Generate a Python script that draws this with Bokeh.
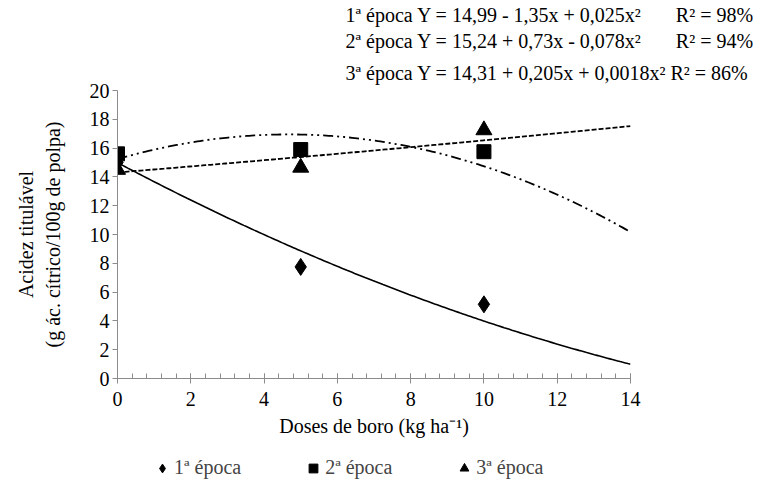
import numpy as np
from bokeh.plotting import figure
from bokeh.layouts import column
from bokeh.models import Legend, LegendItem, Range1d, FixedTicker, Title
from bokeh.embed import file_html
from bokeh.resources import INLINE

# ---- data ----
doses = [0, 5, 10]
epoca1 = [15.0, 7.75, 5.15]
epoca2 = [15.6, 15.9, 15.75]
epoca3 = [14.5, 14.65, 17.25]
# regression coefficients printed on the chart (b0, b1, b2)
coef1 = [14.99, -1.35, 0.025]
coef2 = [15.24, 0.73, -0.078]
coef3 = [14.31, 0.205, 0.0018]
x_ticks = [0, 2, 4, 6, 8, 10, 12, 14]
y_ticks = [0, 2, 4, 6, 8, 10, 12, 14, 16, 18, 20]
series_names = ["1ª época", "2ª época", "3ª época"]
equations = ["1ª época Y = 14,99 - 1,35x + 0,025x²",
             "2ª época Y = 15,24 + 0,73x - 0,078x²",
             "3ª época Y = 14,31 + 0,205x + 0,0018x²"]
r2_texts = ["R² = 98%", "R² = 94%", "R² = 86%"]
gaps = [7, 7, 1]

FONT = "'Liberation Serif', 'Times New Roman', serif"
FS = "20px"
AX = "#8c8c8c"
NB = "\u00a0"

p = figure(frame_width=513, frame_height=288, x_range=Range1d(0, 14), y_range=Range1d(0, 20),
           output_backend="svg", toolbar_location=None,
           min_border_left=117, min_border_right=128, min_border_top=90, min_border_bottom=0)
p.outline_line_color = None
p.grid.grid_line_color = None

xs = np.linspace(0, 14, 200)
def poly(c, x):
    return c[0] + c[1] * x + c[2] * x ** 2

p.line(xs, poly(coef1, xs), line_color="black", line_width=1.6)
p.line(xs, poly(coef2, xs), line_color="black", line_width=1.8, line_dash="10 4 2 4 2 4")
p.line(xs, poly(coef3, xs), line_color="black", line_width=1.8, line_dash="5 2")

p.scatter(doses, epoca1, marker="diamond", size=17, color="black")
p.scatter(doses, epoca2, marker="square", size=14, color="black")
p.scatter(doses, epoca3, marker="triangle", size=16, color="black")

# axes
for ax in (p.xaxis[0], p.yaxis[0]):
    ax.axis_line_color = AX
    ax.major_tick_line_color = AX
    ax.minor_tick_line_color = AX
    ax.major_label_text_font = FONT
    ax.major_label_text_font_size = FS
    ax.major_label_text_color = "black"
    ax.axis_label_text_font = FONT
    ax.axis_label_text_font_size = FS
    ax.axis_label_text_font_style = "normal"
    ax.axis_label_text_color = "black"
p.xaxis.ticker = FixedTicker(ticks=x_ticks, minor_ticks=list(np.arange(0, 14.01, 0.4)))
p.xaxis.major_tick_in = 5
p.xaxis.major_tick_out = 5
p.xaxis.minor_tick_in = 5
p.xaxis.minor_tick_out = 0
p.xaxis.major_label_standoff = 8
p.xaxis.axis_label = "Doses de boro (kg ha⁻¹)"
p.xaxis.axis_label_standoff = 6
p.yaxis.ticker = FixedTicker(ticks=y_ticks)
p.yaxis.major_tick_in = 0
p.yaxis.major_tick_out = 5
p.yaxis.minor_tick_line_color = None
p.yaxis.major_label_standoff = 3
p.yaxis.axis_label = "Acidez titulável\n(g ác. cítrico/100g de polpa)"
p.yaxis.axis_label_standoff = 23

# equations (titles stacked above the frame; first added is closest)
standoffs = [2, 3, 13]
for i in [2, 1, 0]:
    txt = equations[i] + NB * gaps[i] + r2_texts[i]
    p.add_layout(Title(text=txt, align="left", offset=228, text_font=FONT,
                       text_font_size=FS, text_font_style="normal",
                       text_color="black", standoff=standoffs[i]), "above")

# legend strip below the chart (same series; points fall outside this strip's ranges)
p2 = figure(width=758, height=46, x_range=Range1d(0, 1), y_range=Range1d(0, 1),
            output_backend="svg", toolbar_location=None,
            x_axis_type=None, y_axis_type=None, min_border=0)
p2.outline_line_color = None
l1 = p2.scatter(doses, epoca1, marker="diamond", size=17, color="black")
l2 = p2.scatter(doses, epoca2, marker="square", size=14, color="black")
l3 = p2.scatter(doses, epoca3, marker="triangle", size=16, color="black")
legend = Legend(items=[LegendItem(label=series_names[0], renderers=[l1], index=0),
                       LegendItem(label=series_names[1], renderers=[l2], index=0),
                       LegendItem(label=series_names[2], renderers=[l3], index=0)],
                orientation="horizontal", location=(33, 6),
                label_text_font=FONT, label_text_font_size=FS,
                glyph_width=24, glyph_height=22, spacing=60, label_standoff=0,
                border_line_color=None, background_fill_alpha=0, margin=0,
                padding=2, label_height=20)
p2.add_layout(legend)

open("out.html", "w").write(file_html(column(p, p2, spacing=0), INLINE))
